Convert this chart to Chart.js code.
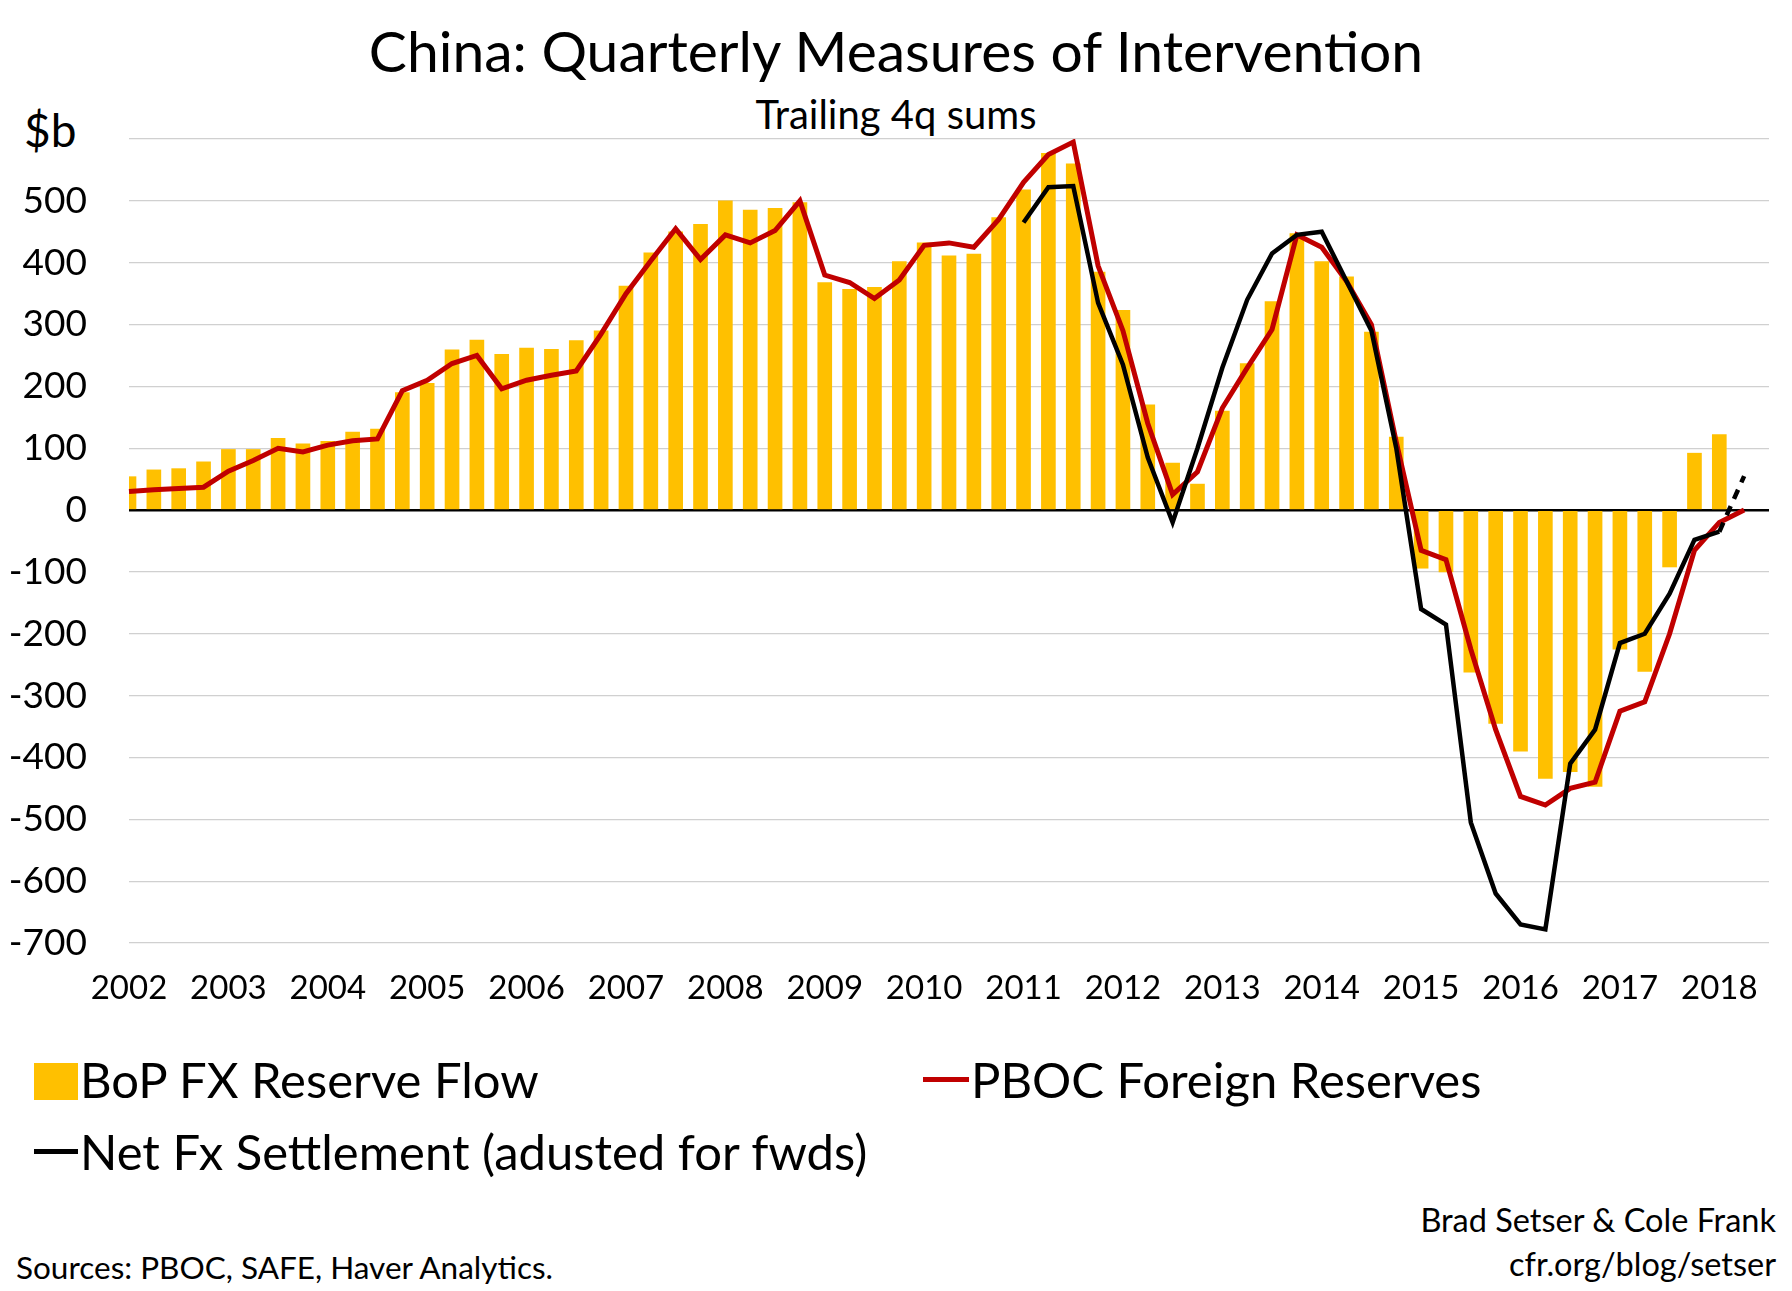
<!DOCTYPE html>
<html><head><meta charset="utf-8">
<script src="https://cdn.jsdelivr.net/npm/chart.js@4"></script>
<style>
body{margin:0;background:#fff;width:1792px;height:1291px;position:relative;font-family:Lato,"Noto Sans",sans-serif;color:#000;overflow:hidden}
.t{position:absolute;white-space:nowrap}
#wrap{position:absolute;left:0;top:0;width:1792px;height:1010px}
</style></head><body>
<div class="t" style="left:0;width:1792px;text-align:center;top:16px;font-size:57px">China: Quarterly Measures of Intervention</div>
<div class="t" style="left:0;width:1792px;text-align:center;top:90px;font-size:40px">Trailing 4q sums</div>
<div class="t" style="left:24px;top:102px;font-size:46px">$b</div>
<div id="wrap"><canvas id="c"></canvas></div>
<div class="t" style="left:34px;top:1063px;width:44px;height:37px;background:#FFC000"></div>
<div class="t" style="left:80px;top:1050px;font-size:49px">BoP FX Reserve Flow</div>
<div class="t" style="left:923px;top:1077px;width:46px;height:5px;background:#C00000"></div>
<div class="t" style="left:971px;top:1050px;font-size:49px">PBOC Foreign Reserves</div>
<div class="t" style="left:34px;top:1149px;width:44px;height:5px;background:#000"></div>
<div class="t" style="left:80px;top:1122px;font-size:49px">Net Fx Settlement (adusted for fwds)</div>
<div class="t" style="right:16px;top:1200px;font-size:32.5px;text-align:right">Brad Setser &amp; Cole Frank</div>
<div class="t" style="right:16px;top:1244px;font-size:32.5px;text-align:right">cfr.org/blog/setser</div>
<div class="t" style="left:16px;top:1248px;font-size:31.5px">Sources: PBOC, SAFE, Haver Analytics.</div>
<script>
const years = [2002,2003,2004,2005,2006,2007,2008,2009,2010,2011,2012,2013,2014,2015,2016,2017,2018];
const quarters = [];
for (const y of years) for (let q=1;q<=4;q++) quarters.push(y+'Q'+q);
quarters.length = 67;
const bopFlow = [54,65,67,78,98,98,116,107,111,126,131,190,205,259,275,252,262,260,274,290,362,416,450,462,500,485,488,497,368,357,360,402,432,411,414,473,518,577,560,385,323,170,76,42,160,237,337,447,402,377,288,118,-94,-100,-262,-345,-390,-434,-423,-447,-225,-261,-92,92,122,null];
const pbocReserves = [30,33,35,37,63,80,100,94,105,112,115,193,210,237,250,196,210,218,225,285,350,403,455,405,445,432,452,500,380,368,342,372,428,432,425,470,530,575,595,395,290,140,25,62,165,230,292,445,425,370,300,110,-65,-80,-225,-355,-463,-477,-450,-440,-325,-310,-200,-65,-20,0];
const netFx = [null,null,null,null,null,null,null,null,null,null,null,null,null,null,null,null,null,null,null,null,null,null,null,null,null,null,null,null,null,null,null,null,null,null,null,null,465,522,524,335,235,85,-20,100,230,340,415,445,450,370,290,100,-160,-185,-505,-620,-670,-678,-410,-355,-215,-200,-135,-48,-35,null];
const netFxEst = quarters.map((_,i)=> i===64 ? -35 : (i===65 ? 55 : null));
new Chart(document.getElementById('c'),{
  data:{labels:quarters,datasets:[
    {type:'line',data:pbocReserves,borderColor:'#C00000',borderWidth:5,pointRadius:0,tension:0,order:1},
    {type:'line',data:netFx,borderColor:'#000',borderWidth:4.5,pointRadius:0,tension:0,spanGaps:false,order:0},
    {type:'line',data:netFxEst,borderColor:'#000',borderWidth:4.5,borderDash:[10,8],pointRadius:0,spanGaps:false,order:0},
    {type:'bar',data:bopFlow,backgroundColor:'#FFC000',barThickness:14,order:3}
  ]},
  options:{responsive:true,maintainAspectRatio:false,animation:false,
    layout:{padding:{top:139,right:23,left:0,bottom:0}},
    plugins:{legend:{display:false},tooltip:{enabled:false}},
    scales:{
      x:{type:'category',offset:false,grid:{display:false},border:{display:false},
        afterFit:s=>{s.height=67},
        ticks:{autoSkip:false,maxRotation:0,color:'#000',font:{family:'Lato',size:33},padding:18,
          callback:function(v,i){const l=quarters[i];return l.endsWith('Q1')?l.slice(0,4):'';}}},
      y:{min:-700,max:600,afterFit:s=>{s.width=129},
        border:{display:false},
        grid:{color:c=>c.tick&&c.tick.value===0?'#000':'#d0d0d0',lineWidth:c=>c.tick&&c.tick.value===0?2.5:1.2,drawTicks:false},
        ticks:{stepSize:100,color:'#000',font:{family:'Lato',size:37},padding:42,
          callback:v=>v===600?'':v}}
    }}
});
</script>
</body></html>
